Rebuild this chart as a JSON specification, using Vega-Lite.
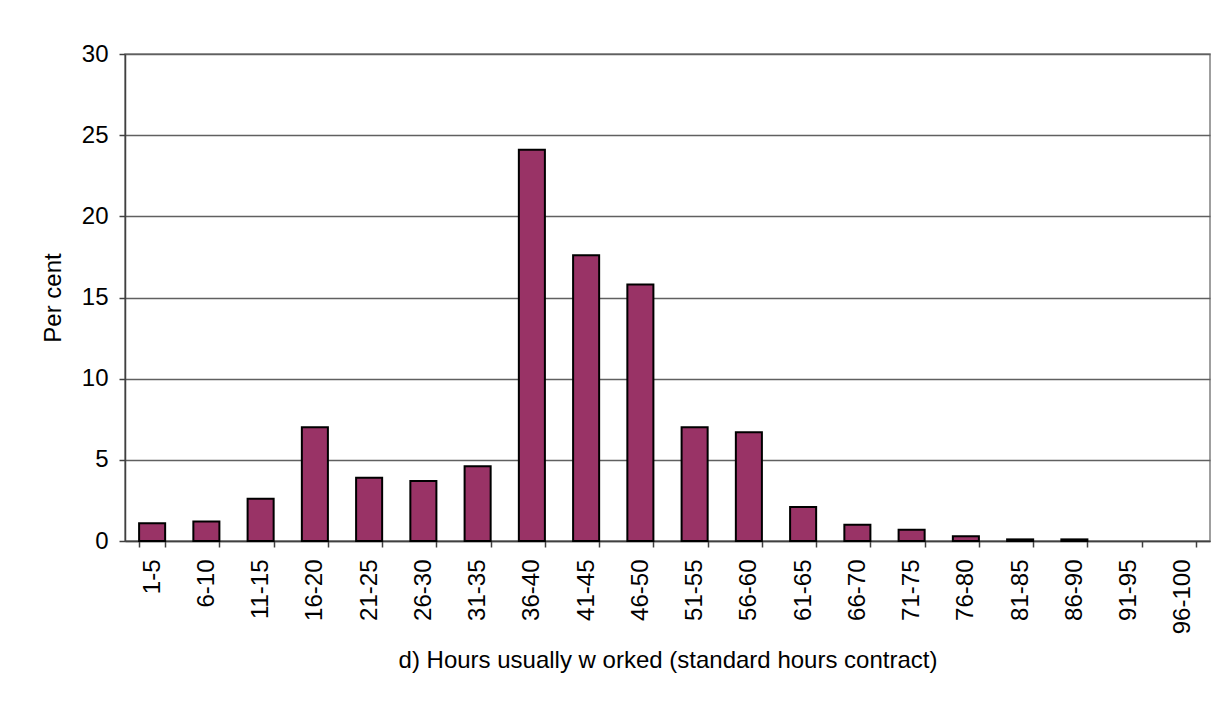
{
  "$schema": "https://vega.github.io/schema/vega-lite/v6.json",
  "autosize": "none",
  "width": 1085,
  "height": 487,
  "padding": {"left": 125, "top": 54, "right": 22, "bottom": 169},
  "background": "white",
  "config": {
    "font": "Liberation Sans",
    "view": {"stroke": "#808080", "strokeWidth": 1.5}
  },
  "data": {
    "values": [
      {"hours": "1-5", "pct": 1.1},
      {"hours": "6-10", "pct": 1.2},
      {"hours": "11-15", "pct": 2.6},
      {"hours": "16-20", "pct": 7.0},
      {"hours": "21-25", "pct": 3.9},
      {"hours": "26-30", "pct": 3.7},
      {"hours": "31-35", "pct": 4.6},
      {"hours": "36-40", "pct": 24.1},
      {"hours": "41-45", "pct": 17.6},
      {"hours": "46-50", "pct": 15.8},
      {"hours": "51-55", "pct": 7.0},
      {"hours": "56-60", "pct": 6.7},
      {"hours": "61-65", "pct": 2.1},
      {"hours": "66-70", "pct": 1.0},
      {"hours": "71-75", "pct": 0.7},
      {"hours": "76-80", "pct": 0.3},
      {"hours": "81-85", "pct": 0.1},
      {"hours": "86-90", "pct": 0.1},
      {"hours": "91-95", "pct": 0},
      {"hours": "96-100", "pct": 0}
    ]
  },
  "mark": {"type": "bar", "fill": "#993366", "stroke": "black", "strokeWidth": 2},
  "encoding": {
    "strokeOpacity": {
      "condition": {"test": "datum.pct > 0", "value": 1},
      "value": 0
    },
    "x": {
      "field": "hours",
      "type": "ordinal",
      "sort": null,
      "scale": {"paddingInner": 0.52, "paddingOuter": 0.26},
      "axis": {
        "title": "d) Hours usually w orked (standard hours contract)",
        "titleFont": "Liberation Sans",
        "titleFontSize": 24,
        "titleFontWeight": "normal",
        "titleColor": "black",
        "titleY": 119,
        "titleBaseline": "middle",
        "labelAngle": -90,
        "labelFontSize": 24,
        "labelColor": "black",
        "labelPadding": 12,
        "labelBaseline": "middle",
        "labelAlign": "right",
        "domainColor": "#404040",
        "domainWidth": 1.5,
        "tickColor": "#404040",
        "tickBand": "extent",
        "tickSize": 6,
        "tickWidth": 1.5,
        "grid": false
      }
    },
    "y": {
      "field": "pct",
      "type": "quantitative",
      "scale": {"domain": [0, 30], "nice": false},
      "axis": {
        "title": "Per cent",
        "titleFont": "Liberation Sans",
        "titleFontSize": 24,
        "titleFontWeight": "normal",
        "titleColor": "black",
        "titlePadding": 16,
        "values": [0, 5, 10, 15, 20, 25, 30],
        "labelFontSize": 24,
        "labelColor": "black",
        "labelPadding": 11,
        "domainColor": "#404040",
        "domainWidth": 1.5,
        "tickColor": "#404040",
        "tickSize": 6,
        "tickWidth": 1.5,
        "grid": true,
        "gridColor": "#606060",
        "gridWidth": 1.5
      }
    }
  }
}
